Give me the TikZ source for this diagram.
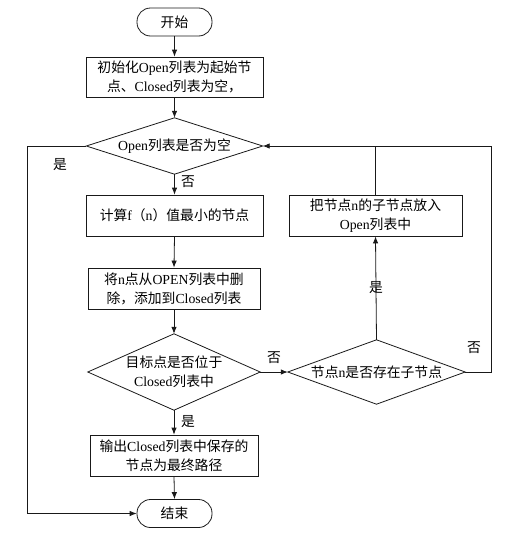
\documentclass[tikz,border=0pt]{standalone}
\usepackage{fontspec}
\setmainfont{Liberation Serif}
\newfontfamily\cjk{Noto Sans CJK SC}
\newcommand{\zh}[1]{{\cjk #1}}
\usetikzlibrary{arrows.meta}
\begin{document}
\begin{tikzpicture}[x=1pt,y=-1pt,
  every node/.style={font=\fontsize{13.8}{19}\selectfont},
  line/.style={draw=black!90, line width=0.8pt},
  arr/.style={line, -{Latex[length=7pt,width=5.5pt]}},
  term/.style={line, rounded corners=13.5pt, minimum width=75pt, minimum height=28pt, inner sep=0pt},
  proc/.style={line, rectangle, inner sep=0pt, align=center},
  dec/.style={rectangle, inner sep=0pt, align=center},
  lab/.style={inner sep=0pt}]
\useasboundingbox (0,0) rectangle (518,536);
\node[term] (start) at (174.5,22) {\zh{开始}};
\node[proc, minimum width=177pt, minimum height=40pt] (init) at (174.5,77) {\zh{初始化}Open\zh{列表为起始节}\\\zh{点、}Closed\zh{列表为空，}};
\node[dec, minimum width=176pt, minimum height=56pt] (d1) at (174.5,146) {Open\zh{列表是否为空}};
\node[proc, minimum width=177pt, minimum height=41pt] (calc) at (174.5,215.5) {\zh{计算}f\zh{（}n\zh{）值最小的节点}};
\node[proc, minimum width=172pt, minimum height=41pt] (del) at (174,288.5) {\zh{将}n\zh{点从}OPEN\zh{列表中删}\\\zh{除，添加到}Closed\zh{列表}};
\node[dec, minimum width=172pt, minimum height=76pt] (d2) at (174,372) {\zh{目标点是否位于}\\Closed\zh{列表中}};
\node[dec, minimum width=177pt, minimum height=64pt] (d3) at (376.5,372) {\zh{节点}n\zh{是否存在子节点}};
\node[proc, minimum width=173pt, minimum height=41pt] (child) at (375.5,215.5) {\zh{把节点}n\zh{的子节点放入}\\Open\zh{列表中}};
\node[proc, minimum width=168pt, minimum height=41pt] (out) at (174,455.5) {\zh{输出}Closed\zh{列表中保存的}\\\zh{节点为最终路径}};
\node[term] (end) at (174.5,513.5) {\zh{结束}};
\foreach \d in {d1,d2,d3}
  \draw[line] (\d.north) -- (\d.east) -- (\d.south) -- (\d.west) -- cycle;
\coordinate (lc) at (27,146);
\coordinate (rc) at (491,146);
\draw[arr] (start.south) -- (init.north);
\draw[arr] (init.south) -- (d1.north);
\draw[arr] (d1.south) -- (calc.north);
\draw[arr] (calc.south) -- (del.north);
\draw[arr] (del.south) -- (d2.north);
\draw[arr] (d2.south) -- (out.north);
\draw[arr] (out.south) -- (end.north);
\draw[arr] (d2.east) -- (d3.west);
\draw[arr] (d3.north) -- (child.south);
\draw[line] (child.north) -- (child.north |- d1.east);
\draw[arr] (d3.east) -| (rc) -- (d1.east);
\draw[arr] (d1.west) -- (lc) |- (end.west);
\node[lab] (l1) at (60,165) {\zh{是}};
\node[lab] (l2) at (188,182) {\zh{否}};
\node[lab] (l3) at (274,358) {\zh{否}};
\node[lab] (l4) at (376,288) {\zh{是}};
\node[lab] (l5) at (474,348) {\zh{否}};
\node[lab] (l6) at (188,422) {\zh{是}};
\end{tikzpicture}
\end{document}
